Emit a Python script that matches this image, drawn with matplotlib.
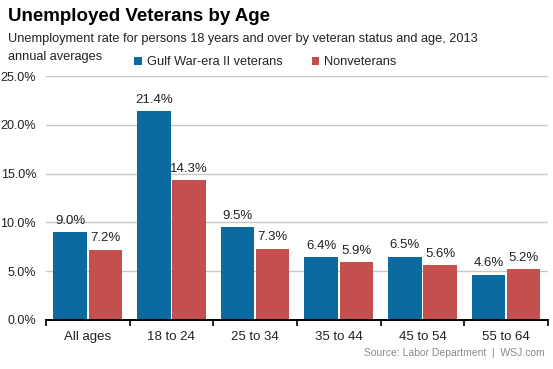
import numpy as np
import matplotlib.pyplot as plt
from matplotlib.ticker import FuncFormatter, FixedLocator

plt.rcParams['font.family'] = ['Liberation Sans', 'DejaVu Sans']

categories = ['All ages', '18 to 24', '25 to 34', '35 to 44', '45 to 54', '55 to 64']
veterans = [9.0, 21.4, 9.5, 6.4, 6.5, 4.6]
nonveterans = [7.2, 14.3, 7.3, 5.9, 5.6, 5.2]
yticks = [0, 5, 10, 15, 20, 25]

blue = '#0b6a9f'
red = '#c34f4f'

fig = plt.figure(figsize=(5.53, 3.69), dpi=100)
ax = fig.add_axes([0.083, 0.133, 0.908, 0.661])

x = np.arange(len(categories))
w = 0.4
b1 = ax.bar(x - 0.21, veterans, w, color=blue, label='Gulf War-era II veterans', zorder=3)
b2 = ax.bar(x + 0.21, nonveterans, w, color=red, label='Nonveterans', zorder=3)

ax.bar_label(b1, labels=[f'{v:.1f}%' for v in veterans], padding=4, fontsize=9.5, color='#222222')
ax.bar_label(b2, labels=[f'{v:.1f}%' for v in nonveterans], padding=4, fontsize=9.5, color='#222222')

ax.set_xlim(-0.5, len(categories) - 0.5)
ax.set_ylim(0, 25)
ax.set_yticks(yticks)
ax.yaxis.set_major_formatter(FuncFormatter(lambda v, p: f'{v:.1f}%'))
ax.grid(axis='y', color='#c8c8c8', linewidth=1, zorder=0)

ax.set_xticks(x)
ax.set_xticklabels(categories, fontsize=9.5, color='#222222')
ax.xaxis.set_minor_locator(FixedLocator(np.arange(-0.5, len(categories), 1)))
ax.tick_params(axis='x', which='major', length=0, pad=8)
ax.tick_params(axis='x', which='minor', length=4, width=1.2, direction='out', color='black')
ax.tick_params(axis='y', length=0, pad=7, labelsize=9, labelcolor='#222222')

for s in ['top', 'right', 'left']:
    ax.spines[s].set_visible(False)
ax.spines['bottom'].set_color('black')
ax.spines['bottom'].set_linewidth(1.4)
ax.spines['bottom'].set_zorder(4)

fig.text(0.014, 0.955, 'Unemployed Veterans by Age', fontsize=13.5, fontweight='bold',
         va='center', ha='left', color='black')
fig.text(0.014, 0.893, 'Unemployment rate for persons 18 years and over by veteran status and age, 2013',
         fontsize=9.2, va='center', ha='left', color='#222222')
fig.text(0.014, 0.845, 'annual averages', fontsize=9.2, va='center', ha='left', color='#222222')

ax.legend(loc='lower left', bbox_to_anchor=(0.16, 1.0), ncol=2, frameon=False, fontsize=9.2,
          handlelength=0.6, handleheight=0.6, handletextpad=0.4, columnspacing=2.3,
          borderaxespad=0.2, labelcolor='#222222')

fig.text(0.985, 0.043, 'Source: Labor Department  |  WSJ.com', fontsize=7.5, color='#8a8a8a',
         ha='right', va='center')

fig.savefig('out.png', dpi=100)
